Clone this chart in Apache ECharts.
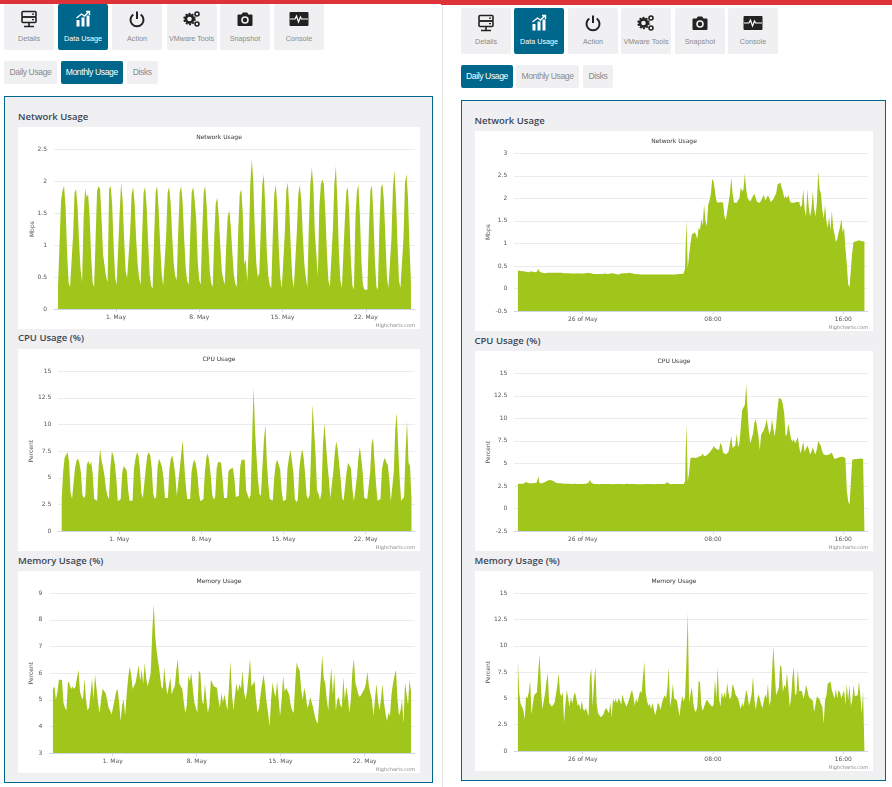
<!DOCTYPE html>
<html>
<head>
<meta charset="utf-8">
<title>Data Usage</title>
<script src="https://cdn.jsdelivr.net/npm/echarts@6/dist/echarts.min.js"></script>
<style>
html, body { margin: 0; padding: 0; background: #fff; width: 892px; height: 787px; overflow: hidden; }
.box { position: absolute; box-sizing: border-box; }
.btn { background: #f0f0f3; border-radius: 2px; color: #8a8a8a; font: 7.2px "Liberation Sans", sans-serif; text-align: center; white-space: nowrap; }
.btn.on { background: #00678c; color: #fff; }
.btn svg { position: absolute; left: 50%; margin-left: -10px; width: 20px; height: 20px; }
.btn span { position: absolute; left: 0; right: 0; }
.tab { font: 8.6px "Liberation Sans", sans-serif; line-height: 23px; letter-spacing: -0.4px; }
.panel { background: #f0f0f3; border: 1px solid #00678c; }
.head { font: 600 9.5px "Open Sans", sans-serif; color: #3a4652; white-space: nowrap; }
.card { background: #fff; }
</style>
</head>
<body>
<script>
// toolbars
const navLabels = ['Details', 'Data Usage', 'Action', 'VMware Tools', 'Snapshot', 'Console'];
const navIcons = ['server', 'chart', 'power', 'gears', 'camera', 'console'];
const tabLabels = ['Daily Usage', 'Monthly Usage', 'Disks'];
const chartTitles = ['Network Usage', 'CPU Usage', 'Memory Usage'];
const headTitles = ['Network Usage', 'CPU Usage (%)', 'Memory Usage (%)'];

// x axis ticks, days of May on the monthly charts and hours on the daily charts
const monthlyTicks = [1, 8, 15, 22];
const monthlyTickLabels = ['1. May', '8. May', '15. May', '22. May'];
const dailyTicks = [0, 8, 16];
const dailyTickLabels = ['26 of May', '08:00', '16:00'];

// monthly values, one sample about every 3 hours
const monthlyNetwork = [
  .35,.35,1.7,1.85,1.93,1.6,.9,.42,.34, .33,1.15,1.82,1.88,1.6,1.05,.62,.42, 1.4,1.89,1.75,1.8,1.45,.85,.42,
  .34,1.1,1.85,1.92,1.88,1.4,.85,.85,.5, .42,1.88,1.93,1.65,1.0,.5,.37, .35,1.5,1.98,1.7,1.1,.6,.48,.45,
  1.2,1.8,1.91,1.65,1.1,.7,.48,.38, 1.15,1.83,1.91,1.6,1.05,.55,.36,.32, 1.15,1.83,1.92,1.55,1.0,.55,.36,.33,
  1.15,1.83,1.91,1.65,1.15,.72,.52,.45, 1.2,1.83,1.92,1.65,1.1,.65,.44,.38, 1.15,1.83,1.91,1.7,1.4,.75,.45,.38,
  1.2,1.83,1.92,1.6,1.05,.6,.4,.35, 1.1,1.65,1.74,1.45,1.0,.6,.47,.38, 1.0,1.45,1.54,1.3,.9,.55,.4,.35,
  1.25,1.8,1.87,1.5,.7,.78,.42, 1.0,1.95,2.35,2.0,1.25,.72,.5,.56, 1.25,1.95,2.11,1.6,.9,.52,.37,.33,
  1.15,1.8,1.95,1.6,.95,.48,.33,.3, 1.2,1.85,1.98,1.55,.95,.48,.33,.3, 1.2,1.8,1.94,1.7,1.15,.7,.5,.33,
  1.3,1.95,2.22,1.92,1.2,.86,.5, 1.6,1.95,2.03,1.95,1.5,.9,.45,.35, .35,1.25,1.95,2.24,1.7,.9,.45,.33,
  .3,1.4,1.85,1.9,1.45,.75,.37,.3, 1.4,1.85,1.94,1.45,.75,.38,.3, .29,.3,1.25,1.85,1.94,1.45,.75,.35,
  .3,1.3,1.9,1.96,1.7,1.1,.5,.33, .3,1.1,1.9,2.17,1.75,1.05,.45,.33, .3,1.1,1.95,2.12,1.75,1.0,.42
];
const monthlyCpu = [
  3.0,5.6,6.9,7.0,7.4,6.5,3.6,3.0, 2.95,5.9,6.6,6.8,6.4,5.5,3.4,3.1, 3.3,6.2,6.6,6.2,6.5,5.4,3.0,
  2.85,2.85,6.0,7.7,6.6,6.0,5.2, 4.0,3.3,3.0,6.0,7.5,7.1,6.3,4.9, 2.8,2.75,3.0,5.5,6.1,6.0,5.7,3.9,2.85,
  2.8,2.85,5.9,6.8,7.4,7.1,5.9,3.5, 3.1,3.2,5.9,7.1,7.4,7.1,5.9,3.5, 3.0,3.2,6.1,6.8,6.7,6.0,4.9,3.1,
  3.0,3.1,5.9,6.8,7.1,6.3,5.2,3.3, 3.2,5.9,7.3,8.5,6.3,4.4,3.0, 2.85,3.0,5.6,6.4,6.7,6.2,5.3,3.5,
  2.8,2.8,3.0,5.5,6.9,7.3,6.5,5.2,3.4, 2.95,3.2,5.9,6.5,6.6,6.4,4.9,3.1, 2.95,3.1,5.6,5.8,5.8,5.95,4.9,3.2,
  3.1,3.3,6.1,6.7,6.8,6.7,3.8,3.7, 3.0,3.4,8.5,13.5,9.5,7.0,4.8, 3.5,3.3,6.0,8.5,10,6.5,4.4,3.0,
  2.85,2.85,5.0,6.3,6.7,6.6,5.8,3.8,2.8, 2.75,2.95,5.9,6.9,7.6,6.6,5.4,3.0, 2.7,2.95,5.9,7.0,7.7,6.8,5.2,3.3,
  3.0,3.4,7.5,11.9,9.5,7.2,3.8,3.5, 2.9,3.6,8.0,10.1,8.3,6.4,4.9,3.1, 3.0,5.5,7.3,8.4,7.7,6.3,4.9,3.1,
  2.85,3.0,5.5,6.4,6.3,5.9,3.9,2.8, 2.75,5.0,6.8,7.9,6.8,5.4,3.1,3.0, 3.0,3.1,5.5,8.2,8.7,6.4,4.4,2.85,
  2.75,3.0,5.8,6.5,6.9,6.4,6.2,4.8, 2.8,2.95,5.5,9.5,11.1,7.8,4.9,2.85, 2.8,3.2,7.5,10.3,6.4,6.1,3.0
];
const monthlyMemory = [
  5.4,5.5,5.0,5.3,5.75,5.7,5.75,4.9,4.7,4.6,5.7,5.6,5.4,5.5,5.4,5.5,
  5.5,6.13,5.3,5.1,5.0,5.8,5.0,4.6,4.7,5.2,5.8,5.0,5.95,5.4,4.9,4.5,
  5.0,5.4,5.35,5.25,5.0,4.7,4.6,4.45,4.4,5.0,5.3,5.4,4.9,4.2,4.8,5.0,
  4.4,5.2,5.8,6.25,5.95,5.4,5.4,5.65,5.6,6.3,5.7,6.13,5.6,6.38,5.8,5.5,
  5.5,6.0,7.5,8.6,7.4,6.8,6.8,6.0,5.5,5.4,6.2,5.6,5.2,5.5,5.85,5.2,
  5.4,5.5,6.1,6.55,5.6,5.55,5.4,4.9,4.5,4.8,5.9,5.7,6.0,5.4,4.9,4.7,
  4.5,6.1,6.0,5.0,4.8,5.6,5.0,4.5,4.8,5.75,5.7,5.5,5.45,5.45,5.0,4.7,
  5.25,4.9,5.2,4.9,4.6,5.5,6.45,5.2,4.6,5.2,5.6,5.3,5.6,5.4,6.1,5.3,
  5.0,5.3,5.9,6.55,5.5,5.5,5.7,5.0,4.5,4.7,5.2,5.6,5.95,5.5,4.9,4.5,
  4.0,5.0,5.65,5.3,5.1,5.7,5.0,4.4,5.0,5.9,5.3,5.45,5.4,5.2,4.8,4.6,
  4.5,5.6,6.4,6.2,6.1,5.4,5.0,5.45,5.2,4.7,4.8,5.1,4.9,4.7,4.4,4.2,
  4.1,5.0,5.8,6.65,5.8,5.6,5.0,4.6,5.5,6.2,5.2,6.0,4.6,5.0,5.1,4.8,
  4.7,5.85,5.0,5.5,5.1,4.5,5.0,6.05,6.55,5.65,5.65,5.2,5.1,5.2,5.3,5.4,
  5.6,6.05,5.5,5.5,5.0,4.4,5.0,5.6,5.0,4.6,5.0,5.6,4.9,4.5,4.2,4.5,
  4.4,5.2,5.6,5.9,6.13,5.0,4.4,4.6,5.0,4.1,5.65,5.6,4.8,5.75,5.3
];

// daily values, one sample every 5 minutes
const dailyNetwork = [
  .4,.38,.39,.37,.38,.38,.37,.39,.36,.37,.38,.36,.36,.35,.37,.44,
  .37,.35,.35,.35,.34,.34,.35,.34,.35,.36,.35,.36,.35,.35,.35,.34,
  .35,.34,.34,.34,.34,.33,.34,.33,.33,.34,.33,.33,.34,.34,.33,.33,
  .33,.33,.34,.33,.35,.34,.33,.33,.32,.33,.32,.32,.32,.32,.32,.32,
  .33,.32,.32,.33,.33,.32,.34,.33,.32,.31,.31,.32,.33,.33,.34,.35,
  .34,.36,.35,.36,.34,.33,.32,.32,.32,.32,.31,.32,.31,.31,.31,.32,
  .31,.31,.31,.31,.31,.32,.31,.31,.31,.30,.31,.31,.31,.31,.31,.31,
  .31,.31,.31,.31,.31,.31,.32,.32,.32,.32,.33,.45,1.52,.45,.75,1.0,
  1.2,1.18,1.25,1.2,1.1,1.35,1.3,1.55,1.4,1.87,1.5,1.38,1.85,1.95,2.1,2.43,
  2.38,2.38,1.95,1.9,1.9,1.92,1.91,1.9,1.6,1.52,1.55,1.9,2.1,2.47,2.1,1.9,
  1.92,1.9,1.92,2.0,2.25,2.15,2.2,2.55,2.2,2.0,2.0,1.93,1.96,2.05,2.1,2.0,
  1.92,1.9,1.9,1.95,1.95,2.08,1.95,1.92,2.07,2.0,1.92,1.92,1.98,2.05,2.1,2.3,
  2.32,2.35,2.25,2.15,2.0,2.05,2.0,2.08,1.95,1.9,1.92,1.9,1.93,1.92,1.94,1.92,
  1.8,1.85,2.2,1.75,1.6,2.2,1.8,1.6,1.75,2.15,1.75,1.6,1.9,2.6,2.2,2.1,
  1.75,1.55,1.85,1.5,1.35,1.6,1.3,1.72,1.35,1.2,1.03,1.1,1.25,1.35,1.55,1.25,
  1.35,.9,.55,.1,.02,.03,.8,1.03,1.05,1.05,1.06,1.07,1.07,1.05,1.05,1.04
];
const dailyCpu = [
  2.75,2.75,2.75,2.72,2.75,2.75,2.95,2.85,2.8,2.75,2.8,2.8,2.8,2.78,2.9,3.55,
  2.8,2.75,2.8,2.85,2.95,3.05,3.1,3.12,3.15,3.15,3.05,2.9,2.85,2.95,2.8,2.75,
  2.8,2.75,2.75,2.78,2.75,2.75,2.75,2.78,2.72,2.75,2.75,2.72,2.72,2.75,2.72,2.75,
  2.72,2.72,2.75,2.75,2.85,3.2,2.85,2.75,2.72,2.7,2.72,2.72,2.7,2.72,2.72,2.72,
  2.72,2.7,2.72,2.75,2.72,2.72,2.7,2.75,2.72,2.7,2.72,2.75,2.72,2.72,2.7,2.72,
  2.75,2.72,2.72,2.75,2.72,2.7,2.72,2.72,2.7,2.72,2.7,2.72,2.7,2.72,2.72,2.7,
  2.72,2.7,2.72,2.72,2.7,2.72,2.72,2.7,2.72,2.72,2.72,2.7,2.72,2.72,2.9,2.72,
  2.7,2.72,2.72,2.7,2.72,2.72,2.72,2.72,2.72,2.9,2.72,3.0,9.4,3.0,4.0,5.6,
  5.6,5.65,5.7,5.6,5.8,5.75,5.8,5.85,6.1,5.8,5.75,5.9,6.0,6.2,6.4,6.6,
  6.9,7.0,6.6,6.6,6.5,7.3,7.0,6.2,6.0,6.0,6.05,6.3,6.5,8.0,6.7,6.8,
  7.0,8.3,6.8,7.2,9.0,10.9,10.7,11.5,13.7,11,8.5,7.2,7.2,8.3,9.5,9.9,
  9.0,8.0,6.5,8.2,8.0,8.7,9.2,9.9,9.9,8.2,8.6,9.9,8.8,8.0,9.2,11.0,
  12.3,12.3,12.1,11.5,10.5,8.0,8.3,9.4,9.3,7.7,7.4,7.7,7.2,7.0,7.9,6.8,
  6.1,6.2,7.4,6.3,6.1,7.0,6.6,6.0,6.3,6.8,6.3,6.0,6.6,7.5,7.2,6.9,
  6.3,6.0,6.2,5.9,5.8,6.0,5.9,6.2,5.8,5.5,5.5,5.6,5.6,5.7,5.8,5.75,
  5.65,5.6,2.0,.8,.4,.6,5.4,5.5,5.5,5.5,5.5,5.55,5.55,5.5,5.5,5.5
];
const dailyMemory = [
  8.6,5.5,4.5,4.2,3.9,3.0,5.2,5.0,5.6,6.7,3.5,4.5,5.3,5.3,5.6,7.5,
  9.2,6,4,4,5.5,6.6,7.4,4.6,4.6,4.2,4.2,4.6,4.6,6.2,7.4,5.5,
  5.2,5.6,2.7,4.5,5.8,5.9,4.2,5.1,4.5,5.2,5.6,5.0,4.3,4.5,3.9,4.8,
  4.0,3.8,4.1,3.7,3.3,7.0,7.8,4.2,6.5,8.0,4.5,3.6,3.5,3.2,3.1,3.5,
  3.9,4.1,4.0,3.6,4.6,3.2,5.0,4.6,5.0,4.5,5.0,4.8,4.4,5.4,4.8,4.5,
  4.2,4.2,5.0,5.5,5.8,5.2,4.3,5.0,4.6,5.2,5.7,5.5,7.0,8.5,5.6,4.8,
  4.3,4.5,4.0,4.6,4.0,3.4,3.9,4.6,4.4,3.9,4.6,5.0,5.3,5.0,6.0,8.0,
  4.2,5.0,6.4,5.0,5.0,4.8,4.0,3.3,4.6,5.2,4.7,5.2,8.5,13.2,4.6,5.4,
  6.1,4.6,3.9,3.7,4.2,6.7,6.5,4.4,3.8,4.2,4.6,4.9,4.8,4.5,4.4,4.2,
  4.4,6.8,5.0,8.0,5.0,4.2,5.6,5.0,5.6,5.0,6.5,5.5,4.9,5.2,6.4,6.0,
  5.4,5.2,5.0,4.5,4.0,4.6,4.2,5.0,5.8,5.3,4.3,4.8,5.4,7.1,5.0,3.9,
  4.8,5.4,5.0,4.4,4.1,4.8,5.4,5.0,6.4,4.3,4.8,7.5,10,7.5,5.3,5.4,
  6.0,8.2,7.9,5.6,6.3,6.0,7.4,6.0,4.2,5.0,7.0,8.0,5.3,5.5,7.8,5.7,
  5.6,5.7,5.0,5.4,6.3,5.8,5.2,5.0,5.0,4.8,3.7,3.8,5.2,5.2,4.9,4.5,
  4.2,2.6,4.8,5.3,6.4,6.4,6.6,5.8,5.4,5.0,5.9,5.0,5.8,5.6,5.0,5.4,
  5.8,4.4,6.4,4.8,6.3,4.3,4.8,6.3,5.2,5.3,5.3,6.6,5.2,3.6,5.7,5.8
];

const fillColor = '#a0c51b';
const textColor = '#555';

const iconMarkup = {
  server: '<rect x="3" y="2.5" width="14" height="5.5" rx="1" fill="none" stroke="#222" stroke-width="1.6"/><rect x="3" y="8" width="14" height="5.5" rx="1" fill="none" stroke="#222" stroke-width="1.6"/><path d="M10 13.5v3.5M5 17.5h10" stroke="#222" stroke-width="1.6"/><path d="M13 5.2h2M13 10.7h2" stroke="#222" stroke-width="1.2"/>',
  chart: '<rect x="3.5" y="11" width="3" height="6.5" fill="#222"/><rect x="8.5" y="8.5" width="3" height="9" fill="#222"/><rect x="13.5" y="6.5" width="3" height="11" fill="#222"/><path d="M3.5 9 8.5 5l3 2 4.5-4.5M13 2.5h3.5V6" fill="none" stroke="#222" stroke-width="1.4"/>',
  power: '<path d="M6.3 5.5a6.5 6.5 0 1 0 7.4 0" fill="none" stroke="#222" stroke-width="2"/><path d="M10 2.5v7.5" stroke="#222" stroke-width="2"/>',
  gears: '<circle cx="7.5" cy="10" r="3.6" fill="none" stroke="#222" stroke-width="2.6"/><circle cx="7.5" cy="10" r="5.4" fill="none" stroke="#222" stroke-width="1.6" stroke-dasharray="2 1.4"/><circle cx="15" cy="5" r="2" fill="none" stroke="#222" stroke-width="1.6"/><circle cx="15" cy="15" r="2" fill="none" stroke="#222" stroke-width="1.6"/>',
  camera: '<path d="M3.5 5.5h3l1.3-2h4.4l1.3 2h3a1 1 0 0 1 1 1v9.5a1 1 0 0 1-1 1h-13a1 1 0 0 1-1-1V6.5a1 1 0 0 1 1-1z" fill="#222"/><circle cx="10" cy="11" r="3" fill="none" stroke="#f0f0f3" stroke-width="1.6"/>',
  console: '<rect x="0.5" y="3" width="19" height="14" rx="1" fill="#222"/><path d="M1 10h5l1.5-3 2 6 2-5 1 2h6.5" fill="none" stroke="#fff" stroke-width="1.2"/>'
};

function addBox(className, left, top, width, height) {
  const el = document.createElement('div');
  el.className = 'box ' + className;
  el.style.cssText = 'left:' + left + 'px;top:' + top + 'px;width:' + width + 'px;height:' + height + 'px';
  document.body.appendChild(el);
  return el;
}

// nav buttons with icon and label
function addNav(lefts, top) {
  navLabels.forEach(function (label, i) {
    const el = addBox('btn' + (i === 1 ? ' on' : ''), lefts[i], top, 50, 46);
    const color = i === 1 ? '#fff' : '#222';
    el.innerHTML = '<svg viewBox="0 0 20 20" style="top:5px">' + iconMarkup[navIcons[i]].split('#222').join(color) + '</svg>' +
      '<span style="top:29.5px">' + label + '</span>';
  });
}

function addTabs(rects, top, activeIndex) {
  tabLabels.forEach(function (label, i) {
    const el = addBox('btn tab' + (i === activeIndex ? ' on' : ''), rects[i][0], top, rects[i][1], 23);
    el.textContent = label;
  });
}

function addHead(text, left, centerY) {
  const el = addBox('head', left, centerY - 8, 200, 16);
  el.style.lineHeight = '16px';
  el.textContent = text;
}

// one area chart inside a white card
function drawChart(c) {
  const dom = addBox('card', c.left, c.top, c.width, c.height);
  const myChart = echarts.init(dom);
  const step = (c.dataEnd - c.dataStart) / (c.values.length - 1);
  const seriesData = c.values.map(function (v, i) {
    return [c.dataStart + i * step, v];
  });
  const option = {
    animation: false,
    title: {
      text: c.title, left: 'center', top: 2,
      textStyle: { fontSize: 6, fontWeight: 'normal', color: '#333', fontFamily: 'DejaVu Sans' }
    },
    graphic: [{
      type: 'text', right: 5, bottom: 1,
      style: { text: 'Highcharts.com', fontSize: 5, fill: '#888', fontFamily: 'DejaVu Sans' }
    }],
    grid: { left: c.gridLeft, right: c.gridRight, top: 22.3, bottom: 20, outerBoundsMode: 'none' },
    xAxis: {
      type: 'value', min: c.xMin, max: c.xMax,
      splitLine: { show: false },
      axisLine: { onZero: false, lineStyle: { color: '#ccd6eb' } },
      axisTick: { length: 3, customValues: c.ticks, lineStyle: { color: '#ccd6eb' } },
      axisLabel: {
        customValues: c.ticks, margin: 5, fontSize: 6, color: textColor, fontFamily: 'DejaVu Sans',
        formatter: function (v) { return c.tickLabels[c.ticks.indexOf(v)]; }
      }
    },
    yAxis: {
      type: 'value', min: c.yMin, max: c.yMax, interval: c.yStep,
      name: c.yName, nameLocation: 'middle', nameGap: c.nameGap, nameMoveOverlap: false,
      nameTextStyle: { fontSize: 6, color: textColor, fontFamily: 'DejaVu Sans' },
      axisLine: { show: false }, axisTick: { show: false },
      splitLine: { lineStyle: { color: '#ebebeb' } },
      axisLabel: { margin: 7, fontSize: 6, color: textColor, fontFamily: 'DejaVu Sans' }
    },
    series: [{
      type: 'line', data: seriesData, showSymbol: false, silent: true,
      lineStyle: { width: 0 },
      itemStyle: { color: fillColor },
      areaStyle: { color: fillColor, opacity: 1, origin: 'start' }
    }]
  };
  option && myChart.setOption(option);
}

// page chrome
addBox('', 0, 0, 892, 4).style.background = '#dc3238';
addBox('', 441, 0, 451, 5).style.background = '#dc3238';
addBox('', 441.5, 5, 1, 782).style.background = '#e6e6e6';

addNav([4, 58, 112, 166.5, 220, 274], 4);
addTabs([[4, 53], [60.5, 62.5], [127, 30.5]], 61, 1);
addBox('panel', 4, 96, 429, 687);
addHead(headTitles[0], 18, 116.5);
addHead(headTitles[1], 18, 338);
addHead(headTitles[2], 18, 560.5);

addNav([461, 514, 568, 621, 675, 728], 7.5);
addTabs([[461, 52], [516, 63], [583, 30]], 65, 0);
addBox('panel', 461, 100, 425, 680.5);
addHead(headTitles[0], 474.5, 120.5);
addHead(headTitles[1], 474.5, 341);
addHead(headTitles[2], 474.5, 560.5);

const monthlyBase = { left: 18, width: 402, height: 202, gridRight: 5, ticks: monthlyTicks, tickLabels: monthlyTickLabels };
const dailyBase = {
  left: 475, width: 398, height: 200, gridLeft: 39.3, gridRight: 5.3, nameGap: 23,
  xMin: -4.2, xMax: 17.5, dataStart: -3.98, dataEnd: 17.3, ticks: dailyTicks, tickLabels: dailyTickLabels
};

drawChart(Object.assign({}, monthlyBase, {
  top: 127, title: chartTitles[0], yName: 'Mbps', values: monthlyNetwork,
  gridLeft: 36, nameGap: 19, xMin: -4.21, xMax: 26.13, dataStart: -3.87, dataEnd: 25.79,
  yMin: 0, yMax: 2.5, yStep: 0.5
}));
drawChart(Object.assign({}, monthlyBase, {
  top: 349, title: chartTitles[1], yName: 'Percent', values: monthlyCpu,
  gridLeft: 40.3, nameGap: 23.5, xMin: -4.2, xMax: 26.2, dataStart: -3.91, dataEnd: 25.9,
  yMin: 0, yMax: 15, yStep: 2.5
}));
drawChart(Object.assign({}, monthlyBase, {
  top: 571, title: chartTitles[2], yName: 'Percent', values: monthlyMemory,
  gridLeft: 31.3, nameGap: 14.5, xMin: -4.28, xMax: 26.19, dataStart: -3.98, dataEnd: 25.86,
  yMin: 3, yMax: 9, yStep: 1
}));
drawChart(Object.assign({}, dailyBase, {
  top: 131, title: chartTitles[0], yName: 'Mbps', values: dailyNetwork,
  yMin: -0.5, yMax: 3, yStep: 0.5
}));
drawChart(Object.assign({}, dailyBase, {
  top: 351, title: chartTitles[1], yName: 'Percent', values: dailyCpu,
  yMin: -2.5, yMax: 15, yStep: 2.5
}));
drawChart(Object.assign({}, dailyBase, {
  top: 571, title: chartTitles[2], yName: 'Percent', values: dailyMemory,
  yMin: 0, yMax: 15, yStep: 2.5
}));
</script>
</body>
</html>
